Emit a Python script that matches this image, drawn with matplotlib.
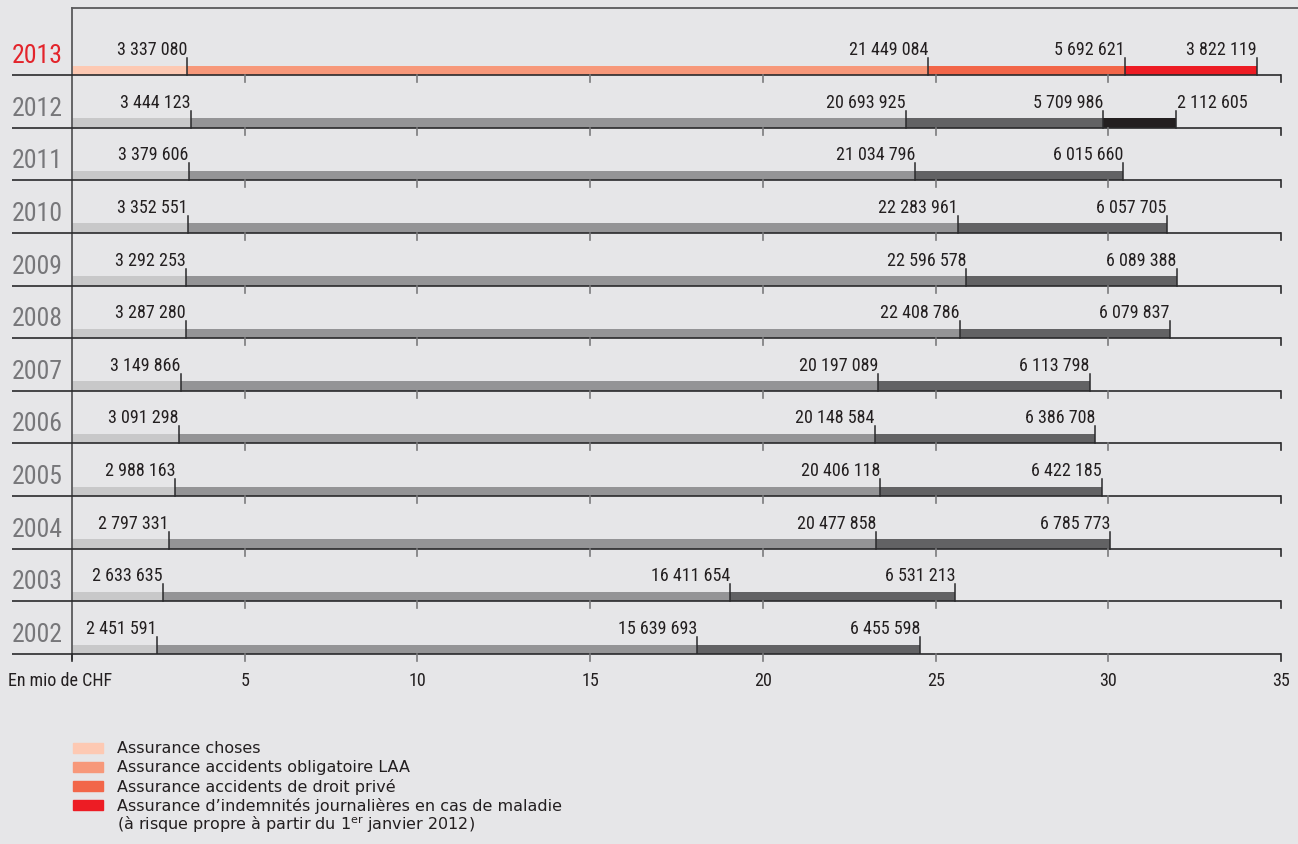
import matplotlib
matplotlib.use('Agg')
import matplotlib.pyplot as plt
from matplotlib import font_manager as fm

# ---------------- data ----------------
years = [2013, 2012, 2011, 2010, 2009, 2008, 2007, 2006, 2005, 2004, 2003, 2002]
choses = [3337080, 3444123, 3379606, 3352551, 3292253, 3287280, 3149866, 3091298,
          2988163, 2797331, 2633635, 2451591]
laa = [21449084, 20693925, 21034796, 22283961, 22596578, 22408786, 20197089, 20148584,
       20406118, 20477858, 16411654, 15639693]
prive = [5692621, 5709986, 6015660, 6057705, 6089388, 6079837, 6113798, 6386708,
         6422185, 6785773, 6531213, 6455598]
maladie = [3822119, 2112605, None, None, None, None, None, None, None, None, None, None]
xticks = [5, 10, 15, 20, 25, 30, 35]
legend_labels = ["Assurance choses",
                 "Assurance accidents obligatoire LAA",
                 "Assurance accidents de droit privé",
                 "Assurance d\u2019indemnités journalières en cas de maladie"]
legend_line2 = "(à risque propre à partir du 1$^{\\mathrm{er}}$ janvier 2012)"
axis_unit = "En mio de CHF"

# ---------------- style ----------------
red_cols = ['#fdc9b3', '#f7987a', '#f26649', '#ed1c24']
gray_cols = ['#c8c8c9', '#949496', '#626264', '#231f20']
bg = '#e6e6e8'
dark = '#2a2a2c'
tickgray = '#7a7a7c'
left_aligned = {(2012, 3)}

avail = {f.name for f in fm.fontManager.ttflist}
narrow = 'DejaVu Sans'
for cand in ['Liberation Sans Narrow', 'Roboto Condensed', 'Open Sans Condensed',
             'DejaVu Sans Condensed', 'Liberation Sans']:
    if cand in avail:
        narrow = cand
        break

W, H = 1298, 845
fig = plt.figure(figsize=(W / 100, H / 100), dpi=100, facecolor=bg)
x0_px, x35_px = 72, 1281
y_bot_px, y_top_px = 655, 9
row_px = (655 - 76) / 11.0
ax = fig.add_axes([x0_px / W, (H - y_bot_px) / H, (x35_px - x0_px) / W,
                   (y_bot_px - y_top_px) / H])
ax.set_facecolor(bg)
ytop = (y_bot_px - y_top_px) / row_px
ax.set_xlim(0, 35)
ax.set_ylim(0, ytop)
ax.axis('off')

px_x = 35.0 / (x35_px - x0_px)   # data units per px in x
px_y = 1.0 / row_px              # data units per px in y

bar_h = 9.5 * px_y
mark_h = 17 * px_y
n = len(years)

for i, yr in enumerate(years):
    base = n - 1 - i
    cols = red_cols if i == 0 else gray_cols
    vals = [choses[i], laa[i], prive[i], maladie[i]]
    # separator line
    ax.plot([-60 * px_x, 35], [base, base], color=dark, lw=1.2, clip_on=False,
            solid_capstyle='butt', zorder=3)
    # ticks below separator
    for t in xticks:
        c = dark if t == 35 else tickgray
        ax.plot([t, t], [base, base - 7 * px_y], color=c, lw=1.2, clip_on=False, zorder=3)
    if base == 0:
        ax.plot([0, 0], [base, base - 7 * px_y], color=dark, lw=1.2, clip_on=False, zorder=3)
    left = 0.0
    for j, v in enumerate(vals):
        if v is None:
            continue
        w = v / 1e6
        ax.barh(base, w, left=left, height=bar_h, align='edge', color=cols[j],
                edgecolor='none', zorder=2)
        right = left + w
        ax.plot([right, right], [base, base + mark_h], color=dark, lw=1.1, zorder=4)
        lab = f"{v:,}".replace(",", " ")
        if (yr, j) in left_aligned:
            ax.text(right + 1 * px_x, base + 21 * px_y, lab, ha='left', va='baseline',
                    fontsize=13, family=narrow, color='#231f20')
        else:
            ax.text(right, base + 21 * px_y, lab, ha='right', va='baseline',
                    fontsize=13, family=narrow, color='#231f20')
        left = right
    # year label
    ax.text(-60 * px_x, base + 13 * px_y, str(yr), ha='left', va='baseline',
            fontsize=18.5, family=narrow,
            color='#e3242b' if i == 0 else '#77777a', clip_on=False)

# frame: top line & left line
ax.plot([0, 35 + 17 * px_x], [ytop, ytop], color='#5a5a5c', lw=1.3, clip_on=False)
ax.plot([0, 0], [-5 * px_y, ytop], color='#5a5a5c', lw=1.3, clip_on=False)

# x tick labels
for t in xticks:
    ax.text(t, -31 * px_y, str(t), ha='center', va='baseline', fontsize=13,
            family=narrow, color='#231f20', clip_on=False)
ax.text(-64 * px_x, -31 * px_y, axis_unit, ha='left', va='baseline', fontsize=13,
        family=narrow, color='#231f20', clip_on=False)

# legend
leg_y = [749, 768, 787, 806]
for k, (lab, c) in enumerate(zip(legend_labels, red_cols)):
    yy = leg_y[k]
    fig.patches.append(plt.Rectangle((73 / W, (H - yy - 5) / H), 30 / W, 10 / H,
                                     transform=fig.transFigure, color=c))
    fig.text(117 / W, (H - yy) / H, lab, ha='left', va='center', fontsize=11.5,
             color='#231f20')
fig.text(117 / W, (H - 825) / H, legend_line2, ha='left', va='center', fontsize=11.5,
         color='#231f20')

fig.savefig('out.png', dpi=100, facecolor=bg)
